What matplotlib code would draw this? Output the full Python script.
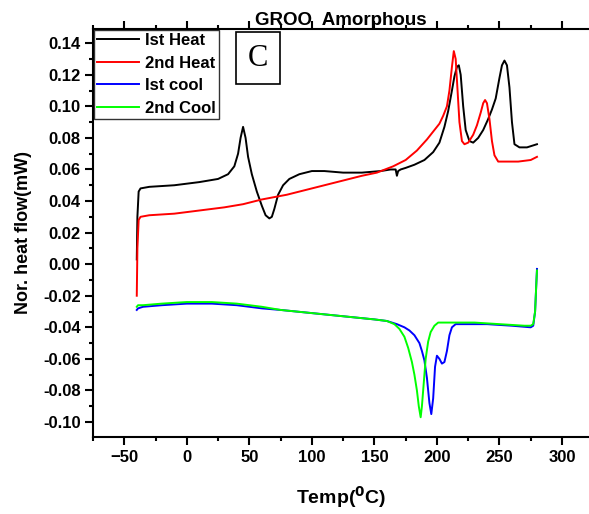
import numpy as np
import matplotlib
matplotlib.use('Agg')
import matplotlib.pyplot as plt
from matplotlib.ticker import MultipleLocator, FuncFormatter

plt.rcParams['font.family'] = ['Liberation Sans', 'DejaVu Sans']
plt.rcParams['font.weight'] = 'bold'
plt.rcParams['mathtext.default'] = 'bf'

# 1st heat
heat1_t = [-40, -39.5, -38.5, -37, -30, -10, 10, 25, 33, 38, 41, 43, 45, 47, 49, 52, 56, 60, 63, 66, 68, 70, 73,
           77, 82, 90, 100, 110, 125, 140, 155, 163, 167, 168, 169, 171, 175, 182, 190, 197, 202, 206, 209, 212,
           214, 216, 217.5, 219, 221, 223, 226, 229, 233, 237, 241, 244, 247, 250, 252, 254, 256, 258, 260, 262,
           266, 272, 280]
heat1_y = [0.003, 0.030, 0.046, 0.048, 0.049, 0.050, 0.052, 0.054, 0.057, 0.062, 0.070, 0.080, 0.087, 0.080,
           0.068, 0.057, 0.046, 0.037, 0.031, 0.029, 0.030, 0.035, 0.044, 0.050, 0.054, 0.057, 0.059, 0.059,
           0.058, 0.058, 0.059, 0.060, 0.060, 0.056, 0.059, 0.060, 0.061, 0.063, 0.066, 0.071, 0.077, 0.087,
           0.097, 0.110, 0.119, 0.125, 0.126, 0.120, 0.100, 0.085, 0.078, 0.077, 0.080, 0.085, 0.092, 0.098,
           0.105, 0.118, 0.126, 0.129, 0.126, 0.112, 0.090, 0.076, 0.074, 0.074, 0.076]

# 2nd heat
heat2_t = [-40, -39.5, -38.5, -37, -30, -10, 10, 30, 45, 60, 80, 100, 120, 140, 152, 165, 175, 184, 192, 198,
           202, 205, 208, 210, 212, 213.5, 215, 216.5, 218, 220, 222, 225, 229, 232, 235, 237, 238.5, 240, 242,
           244, 246, 249, 255, 265, 275, 280]
heat2_y = [-0.020, 0.010, 0.028, 0.030, 0.031, 0.032, 0.034, 0.036, 0.038, 0.041, 0.044, 0.048, 0.052, 0.056,
           0.058, 0.062, 0.066, 0.072, 0.079, 0.085, 0.089, 0.094, 0.100, 0.110, 0.125, 0.135, 0.130, 0.110,
           0.090, 0.078, 0.076, 0.077, 0.082, 0.088, 0.096, 0.102, 0.104, 0.102, 0.092, 0.078, 0.069, 0.065,
           0.065, 0.065, 0.066, 0.068]

# 1st cool
cool1_t = [-40, -39, -35, -20, 0, 20, 40, 50, 60, 75, 100, 125, 150, 160, 168, 174, 178, 182, 186, 188, 190,
           192, 194, 195.5, 197, 198.5, 200, 202, 204, 206, 208, 210, 212, 215, 220, 240, 260, 275, 277, 278.5,
           279.5, 280]
cool1_y = [-0.029, -0.028, -0.027, -0.026, -0.025, -0.025, -0.026, -0.027, -0.028, -0.029, -0.031, -0.033,
           -0.035, -0.036, -0.038, -0.040, -0.042, -0.045, -0.050, -0.055, -0.061, -0.072, -0.088, -0.095,
           -0.085, -0.065, -0.058, -0.060, -0.063, -0.062, -0.055, -0.045, -0.040, -0.038, -0.038, -0.038,
           -0.039, -0.040, -0.039, -0.030, -0.012, -0.003]

# 2nd cool
cool2_t = [-40, -39, -35, -20, 0, 20, 40, 50, 60, 75, 100, 125, 150, 160, 166, 170, 174, 177, 180, 182, 184,
           185.5, 187, 188, 189.5, 191, 193, 195, 198, 201, 210, 230, 250, 270, 275, 277, 278.5, 279.5, 280]
cool2_y = [-0.027, -0.026, -0.026, -0.025, -0.024, -0.024, -0.025, -0.026, -0.027, -0.029, -0.031, -0.033,
           -0.035, -0.036, -0.038, -0.041, -0.046, -0.053, -0.062, -0.070, -0.080, -0.090, -0.097, -0.090,
           -0.075, -0.060, -0.049, -0.043, -0.039, -0.037, -0.037, -0.037, -0.038, -0.039, -0.039, -0.038,
           -0.030, -0.012, -0.004]

fig = plt.figure(figsize=(5.89, 5.14), dpi=100)
ax = fig.add_axes([93/589, 1 - 437/514, (589 - 93)/589, (437 - 29)/514])

ax.plot(heat1_t, heat1_y, color='black', lw=1.4, label='Ist Heat')
ax.plot(heat2_t, heat2_y, color='red', lw=1.4, label='2nd Heat')
ax.plot(cool1_t, cool1_y, color='blue', lw=1.4, label='Ist cool')
ax.plot(cool2_t, cool2_y, color='#00ff00', lw=1.4, label='2nd Cool')

ax.set_xlim(-75, 321.6)
ax.set_ylim(-0.1095, 0.149)
ax.xaxis.set_major_locator(MultipleLocator(50))
ax.xaxis.set_minor_locator(MultipleLocator(25))
ax.yaxis.set_major_locator(MultipleLocator(0.02))
ax.yaxis.set_minor_locator(MultipleLocator(0.01))
ax.yaxis.set_major_formatter(FuncFormatter(lambda v, p: '%.2f' % (0.0 if abs(v) < 1e-9 else v)))

ax.spines['right'].set_visible(False)
for s in ['left', 'bottom', 'top']:
    ax.spines[s].set_linewidth(1.5)
ax.tick_params(which='major', direction='out', length=6, width=1.5, labelsize=12, pad=3, top=True, labeltop=False)
ax.tick_params(which='minor', direction='out', length=3, width=1.5, top=True)

ax.set_xlabel('Temp($^0$C)', fontsize=14, fontweight='bold', labelpad=14)
ax.set_ylabel('Nor. heat flow(mW)', fontsize=13, fontweight='bold', labelpad=8)
ax.set_title('GROO  Amorphous', fontsize=13.5, fontweight='bold', pad=0)

leg = ax.legend(loc='upper left', frameon=True, fancybox=False, edgecolor='black', prop={'weight': 'bold', 'size': 12},
                handlelength=2.5, borderpad=0.2, labelspacing=0.45, handletextpad=0.35, borderaxespad=0.05)
leg.get_frame().set_linewidth(1.0)

# panel letter
ax.text(0.333, 0.928, 'C', transform=ax.transAxes, fontsize=22, family='Liberation Serif', fontweight='normal',
        ha='center', va='center', bbox=dict(boxstyle='square,pad=0.38', fc='white', ec='black', lw=1.2))

fig.savefig('out.png', dpi=100)
